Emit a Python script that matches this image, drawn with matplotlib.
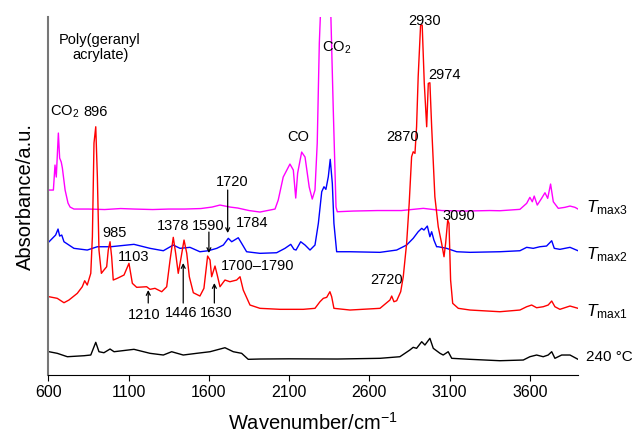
import matplotlib
matplotlib.use("Agg")
from matplotlib import pyplot as plt

plt.rcParams['font.family'] = ['Liberation Sans', 'DejaVu Sans']
plt.rcParams['mathtext.fontset'] = 'custom'
plt.rcParams['mathtext.rm'] = 'Liberation Sans'
plt.rcParams['mathtext.it'] = 'Liberation Sans:italic'

#Spectra (wavenumber, absorbance in arbitrary offset units)
wn_tmax3 = [604, 631, 641, 649, 662, 670, 680, 687, 704, 722, 735, 759, 850, 950, 1050,
            1134, 1250, 1350, 1450, 1550, 1620, 1669, 1700, 1731, 1780, 1850, 1918, 2012,
            2032, 2063, 2105, 2126, 2141, 2153, 2178, 2199, 2225, 2244, 2261, 2275, 2288,
            2296, 2310, 2330, 2345, 2359, 2375, 2392, 2400, 2500, 2650, 2800, 2936, 3050,
            3200, 3350, 3413, 3538, 3580, 3600, 3615, 3627, 3646, 3673, 3694, 3711, 3729,
            3746, 3777, 3818, 3850, 3881, 3900]
ab_tmax3 = [1.85, 1.85, 2.10, 1.98, 2.42, 2.17, 2.13, 2.07, 1.85, 1.72, 1.68, 1.66, 1.66,
            1.655, 1.665, 1.66, 1.655, 1.66, 1.66, 1.665, 1.68, 1.70, 1.69, 1.68, 1.67,
            1.645, 1.63, 1.66, 1.75, 1.98, 2.11, 2.05, 1.77, 2.02, 2.23, 2.18, 1.88, 1.76,
            1.85, 2.32, 3.32, 3.65, 5.0, 7.0, 6.0, 3.65, 2.65, 1.68, 1.633, 1.64, 1.645,
            1.645, 1.667, 1.645, 1.64, 1.645, 1.643, 1.657, 1.717, 1.777, 1.733, 1.79,
            1.70, 1.767, 1.823, 1.767, 1.91, 1.733, 1.667, 1.677, 1.69, 1.677, 1.66]

wn_tmax2 = [604, 645, 660, 670, 683, 697, 759, 842, 905, 988, 1133, 1233, 1316, 1378, 1420,
            1482, 1544, 1596, 1649, 1690, 1721, 1742, 1783, 1804, 1835, 1918, 2022, 2074,
            2110, 2130, 2143, 2172, 2199, 2230, 2261, 2282, 2303, 2317, 2329, 2344, 2356,
            2369, 2379, 2396, 2479, 2666, 2770, 2832, 2873, 2904, 2926, 2940, 2961, 2977,
            2988, 3002, 3019, 3029, 3081, 3144, 3227, 3413, 3538, 3580, 3621, 3662, 3704,
            3736, 3752, 3787, 3850, 3900]
ab_tmax2 = [1.333, 1.40, 1.46, 1.39, 1.40, 1.333, 1.267, 1.25, 1.283, 1.283, 1.307, 1.267,
            1.243, 1.30, 1.267, 1.277, 1.233, 1.243, 1.267, 1.30, 1.367, 1.333, 1.373,
            1.317, 1.233, 1.217, 1.223, 1.267, 1.307, 1.257, 1.25, 1.333, 1.30, 1.25, 1.30,
            1.517, 1.833, 1.883, 1.857, 1.983, 2.157, 1.917, 1.517, 1.233, 1.233, 1.227,
            1.25, 1.30, 1.367, 1.433, 1.467, 1.45, 1.49, 1.383, 1.433, 1.35, 1.283, 1.283,
            1.267, 1.233, 1.227, 1.233, 1.243, 1.277, 1.267, 1.283, 1.29, 1.343, 1.267,
            1.257, 1.277, 1.243]

wn_tmax1 = [604, 655, 697, 728, 780, 811, 826, 842, 864, 874, 884, 895, 905, 915, 930, 946,
            963, 973, 984, 994, 1004, 1029, 1071, 1102, 1123, 1150, 1212, 1233, 1264, 1306,
            1337, 1358, 1378, 1393, 1409, 1424, 1445, 1462, 1478, 1503, 1544, 1569, 1592,
            1607, 1617, 1638, 1652, 1669, 1700, 1731, 1773, 1794, 1814, 1856, 1918, 2043,
            2188, 2261, 2292, 2313, 2334, 2354, 2365, 2379, 2479, 2666, 2728, 2739, 2753,
            2770, 2795, 2811, 2832, 2848, 2863, 2873, 2884, 2894, 2904, 2919, 2929, 2942,
            2957, 2967, 2977, 2988, 3008, 3029, 3050, 3065, 3075, 3088, 3096, 3106, 3119,
            3154, 3227, 3413, 3538, 3580, 3611, 3642, 3683, 3714, 3736, 3756, 3787, 3850,
            3900]
ab_tmax1 = [0.783, 0.767, 0.723, 0.75, 0.817, 0.883, 0.943, 0.90, 1.017, 1.383, 2.32, 2.483,
            1.983, 1.25, 1.017, 1.05, 1.083, 1.25, 1.333, 1.183, 0.95, 0.967, 1.00, 1.117,
            0.917, 0.877, 0.883, 0.857, 0.867, 0.833, 0.883, 1.15, 1.377, 1.217, 1.017,
            1.15, 1.35, 1.217, 0.983, 0.823, 0.79, 0.867, 1.19, 1.15, 0.983, 1.09, 1.00,
            0.883, 0.95, 0.933, 0.95, 0.983, 0.85, 0.70, 0.667, 0.657, 0.657, 0.667, 0.733,
            0.767, 0.777, 0.833, 0.783, 0.667, 0.65, 0.667, 0.75, 0.79, 0.733, 0.743, 0.833,
            0.983, 1.317, 1.717, 2.183, 2.233, 2.217, 2.483, 2.983, 3.50, 3.50, 2.917,
            2.483, 2.917, 2.923, 2.483, 1.783, 1.483, 1.317, 1.183, 1.317, 1.55, 1.517,
            0.95, 0.717, 0.667, 0.65, 0.633, 0.65, 0.683, 0.70, 0.673, 0.683, 0.70, 0.74,
            0.683, 0.657, 0.69, 0.667]

wn_240 = [604, 655, 718, 822, 864, 895, 915, 946, 984, 1009, 1133, 1233, 1316, 1368, 1440,
          1524, 1607, 1700, 1752, 1804, 1845, 1918, 2100, 2400, 2666, 2790, 2852, 2873,
          2894, 2926, 2946, 2977, 2998, 3040, 3060, 3091, 3113, 3227, 3413, 3559, 3600,
          3642, 3683, 3714, 3736, 3756, 3798, 3850, 3900]
ab_240 = [0.233, 0.217, 0.183, 0.193, 0.20, 0.327, 0.233, 0.223, 0.26, 0.233, 0.257, 0.217,
          0.20, 0.233, 0.20, 0.217, 0.233, 0.273, 0.233, 0.217, 0.157, 0.16, 0.162, 0.16,
          0.167, 0.183, 0.25, 0.277, 0.267, 0.333, 0.30, 0.367, 0.267, 0.217, 0.20, 0.233,
          0.167, 0.157, 0.143, 0.15, 0.183, 0.20, 0.183, 0.20, 0.233, 0.167, 0.20, 0.20,
          0.157]

xticks = [600, 1100, 1600, 2100, 2600, 3100, 3600]

fig = plt.figure(figsize=(6.32, 4.38), dpi=100)
ax = fig.add_axes([0.0766, 0.1438, 0.838, 0.8172])

ax.plot(wn_tmax3, ab_tmax3, c='#ff00ff', lw=1)
ax.plot(wn_tmax2, ab_tmax2, c='#0000ff', lw=1)
ax.plot(wn_tmax1, ab_tmax1, c='#ff0000', lw=1)
ax.plot(wn_240, ab_240, c='black', lw=1)

ax.set_xlim(600, 3900)
ax.set_ylim(0, 3.58)
ax.set_xticks(xticks)
ax.set_yticks([])
ax.tick_params(axis='x', direction='out', length=4, labelsize=11.5)
ax.spines['top'].set_visible(False)
ax.spines['right'].set_visible(False)
ax.spines['left'].set_color('#777777')
ax.spines['left'].set_linewidth(1.5)
ax.set_xlabel("Wavenumber/cm$^{-1}$", fontsize=14.5, labelpad=8)
ax.set_ylabel("Absorbance/a.u.", fontsize=14.5, labelpad=10)

#Peak labels
fs = 10.5
ax.text(922, 3.28, "Poly(geranyl\nacrylate)", ha='center', va='center', fontsize=fs,
        linespacing=1.1)
labels = [(703, 2.63, "CO$_2$"), (891, 2.63, "896"), (1015, 1.42, "985"),
          (1134, 1.18, "1103"), (1374, 1.49, "1378"), (1594, 1.49, "1590"),
          (1867, 1.52, "1784"), (1744, 1.93, "1720"), (1906, 1.09, "1700\u20131790"),
          (1196, 0.60, "1210"), (1430, 0.62, "1446"), (1644, 0.62, "1630"),
          (2709, 0.95, "2720"), (3159, 1.59, "3090"), (2809, 2.38, "2870"),
          (2946, 3.54, "2930"), (3071, 3.00, "2974"), (2155, 2.38, "CO"),
          (2398, 3.27, "CO$_2$")]
for x, y, s in labels:
    ax.text(x, y, s, ha='center', va='center', fontsize=fs)

#Arrows (start, end)
arrows = [(1717, 1.85, 1.42), (1600, 1.43, 1.22), (1222, 0.72, 0.85),
          (1440, 0.72, 1.12), (1634, 0.72, 0.92)]
for x, y0, y1 in arrows:
    ax.annotate("", xy=(x, y1), xytext=(x, y0),
                arrowprops=dict(arrowstyle='->', lw=0.9, color='black',
                                shrinkA=0, shrinkB=0, mutation_scale=7))

#Trace names on the right
names = [(1.67, r"$T_{\mathrm{max3}}$"), (1.20, r"$T_{\mathrm{max2}}$"),
         (0.63, r"$T_{\mathrm{max1}}$"), (0.18, "240 \u00b0C")]
for y, s in names:
    fsize = 12.5 if y > 0.5 else 11
    ax.text(3949, y, s, ha='left', va='center', fontsize=fsize, clip_on=False)

fig.savefig("out.png", dpi=100)
